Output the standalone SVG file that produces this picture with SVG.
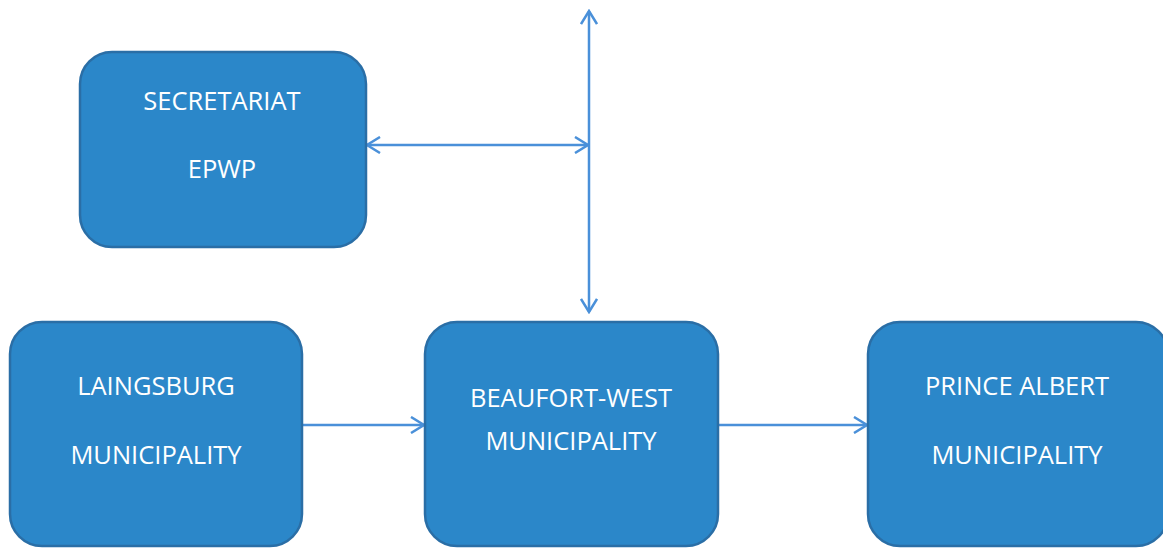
<svg xmlns="http://www.w3.org/2000/svg" width="1163" height="549" viewBox="0 0 1163 549">
<style>
.box{fill:#2b87c9;stroke:#2a6ea6;stroke-width:2.5}
.lbl{fill:#ffffff;font-family:"Open Sans","Noto Sans",sans-serif;font-size:25.5px;text-anchor:middle}
.conn{stroke:#4a90d9;stroke-width:2.5;fill:none}
</style>
<defs>
<marker id="ah" markerWidth="16" markerHeight="18" refX="14" refY="9" orient="auto-start-reverse" markerUnits="userSpaceOnUse">
<path d="M1,1 L14,9 L1,17" fill="none" stroke="#4a90d9" stroke-width="2.5"/>
</marker>
</defs>
<rect width="1163" height="549" fill="#ffffff"/>
<g id="connectors">
<line class="conn" x1="589" y1="11" x2="589" y2="312" marker-start="url(#ah)" marker-end="url(#ah)"/>
<line class="conn" x1="367" y1="145" x2="588" y2="145" marker-start="url(#ah)" marker-end="url(#ah)"/>
<line class="conn" x1="302" y1="425" x2="424" y2="425" marker-end="url(#ah)"/>
<line class="conn" x1="718" y1="425" x2="867" y2="425" marker-end="url(#ah)"/>
</g>
<g id="secretariat">
<rect class="box" x="80" y="52" width="286" height="195" rx="32"/>
<text class="lbl" x="222" y="110">SECRETARIAT</text>
<text class="lbl" x="222" y="178">EPWP</text>
</g>
<g id="laingsburg">
<rect class="box" x="10" y="322" width="292" height="224" rx="32"/>
<text class="lbl" x="156" y="395">LAINGSBURG</text>
<text class="lbl" x="156" y="464">MUNICIPALITY</text>
</g>
<g id="beaufort">
<rect class="box" x="425" y="322" width="293" height="224" rx="32"/>
<text class="lbl" x="571" y="407">BEAUFORT-WEST</text>
<text class="lbl" x="571" y="450">MUNICIPALITY</text>
</g>
<g id="prince">
<rect class="box" x="868" y="322" width="300" height="224" rx="32"/>
<text class="lbl" x="1017" y="395">PRINCE ALBERT</text>
<text class="lbl" x="1017" y="464">MUNICIPALITY</text>
</g>
</svg>
